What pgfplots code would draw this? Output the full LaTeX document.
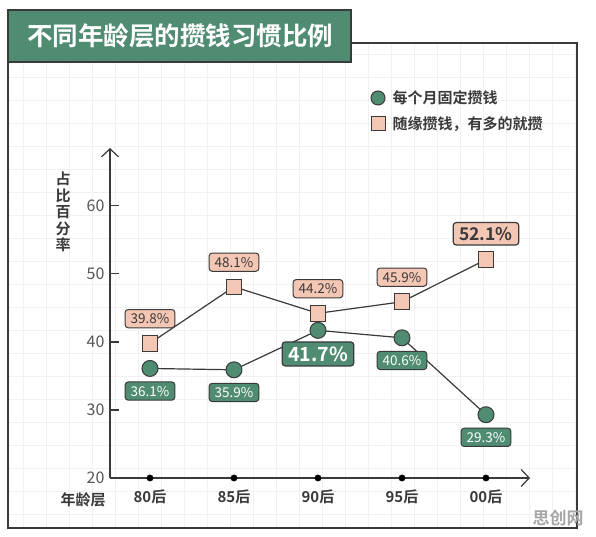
\documentclass[border=0pt]{standalone}
\usepackage{pgfplots}
\pgfplotsset{compat=1.18}
\usepackage{fontspec}
\setmainfont{Noto Sans CJK SC}[BoldFont={Noto Sans CJK SC Bold}]
\usetikzlibrary{arrows.meta}
\definecolor{cgreen}{HTML}{4F8C72}
\definecolor{cpink}{HTML}{F4C6B4}
\definecolor{cdark}{HTML}{3A3A3A}
\definecolor{cgrid}{HTML}{F1F1F1}
\begin{document}
\begin{tikzpicture}[x=1pt,y=1pt]
\useasboundingbox (0,0) rectangle (596,537);
% background grid
\fill[white] (0,0) rectangle (596,537);
\begin{scope}
\clip (8,9) rectangle (577,494);
\draw[cgrid, line width=0.6pt, step=23pt] (0,0) grid (596,537);
\end{scope}
% frame
\draw[cdark, line width=1.2pt] (8,494) rectangle (577,9);
% title box
\draw[cdark, line width=1.2pt, fill=cgreen] (8,475) rectangle (351,527);
\node[text=white, font=\bfseries\fontsize{25.5}{27}\selectfont, anchor=center] at (180,501) {不同年龄层的攒钱习惯比例};
% legend
\draw[cdark, line width=1pt, fill=cgreen] (378,439) circle (7);
\node[anchor=west, text=cdark, font=\bfseries\fontsize{15}{16}\selectfont] at (389,439) {每个月固定攒钱};
\draw[cdark, line width=1pt, fill=cpink] (371,406) rectangle (385,420);
\node[anchor=west, text=cdark, font=\bfseries\fontsize{15}{16}\selectfont] at (389,413) {随缘攒钱，有多的就攒};
% y label
\node[text=cdark, font=\bfseries\fontsize{15}{16}\selectfont, align=center, anchor=center] at (63,325) {占\\[0.5pt]比\\[0.5pt]百\\[0.5pt]分\\[0.5pt]率};
% x label
\node[text=cdark, font=\bfseries\fontsize{15}{16}\selectfont, anchor=center] at (83,37) {年龄层};
% watermark
\node[text=black!35, font=\bfseries\fontsize{17}{18}\selectfont, anchor=center] at (558,19) {思创网};
\begin{axis}[
  at={(110pt,59pt)}, anchor=south west,
  scale only axis, width=420pt, height=330pt,
  xmin=-0.476, xmax=4.524, ymin=20, ymax=68.5,
  axis lines=left,
  axis line style={cdark, line width=1.2pt, -{Straight Barb[length=8pt,width=17pt,line width=1.2pt]}},
  xtick={0,1,2,3,4},
  xticklabels={80后,85后,90后,95后,00后},
  ytick={20,30,40,50,60},
  major x tick style={draw=none},
  major y tick style={cdark, line width=1.2pt},
  tick align=inside,
  major tick length=9pt,
  xticklabel style={text=cdark, font=\bfseries\fontsize{15}{16}\selectfont, yshift=-8pt},
  yticklabel style={text=cdark!85, font=\fontsize{16}{17}\selectfont, xshift=-2pt},
  /pgf/number format/assume math mode=true,
  clip=false,
]
% axis dots
\addplot[only marks, mark=*, mark size=3.2pt, color=black] coordinates {(0,20) (1,20) (2,20) (3,20) (4,20)};
% series: random saving (pink squares)
\addplot[cdark, line width=1.2pt, mark=square*, mark size=7.8pt,
  mark options={fill=cpink, draw=cdark, line width=1pt}]
  coordinates {(0,39.8) (1,48.1) (2,44.2) (3,45.9) (4,52.1)};
% series: fixed monthly saving (green circles)
\addplot[cdark, line width=1.2pt, mark=*, mark size=8pt,
  mark options={fill=cgreen, draw=cdark, line width=1pt}]
  coordinates {(0,36.1) (1,35.9) (2,41.7) (3,40.6) (4,29.3)};
% pink labels
\addplot[draw=none, mark=none, point meta=explicit symbolic,
  nodes near coords={\pgfplotspointmeta\%},
  nodes near coords style={anchor=south, yshift=15pt, fill=cpink, draw=cdark, line width=1pt,
    rounded corners=3pt, text=cdark, font=\fontsize{13.5}{14}\selectfont,
    inner xsep=5.5pt, inner ysep=4pt}]
  table[meta=l] {x y l
0 39.8 39.8
1 48.1 48.1
2 44.2 44.2
3 45.9 45.9
};
\addplot[draw=none, mark=none, point meta=explicit symbolic,
  nodes near coords={\pgfplotspointmeta\%},
  nodes near coords style={anchor=south, yshift=14pt, fill=cpink, draw=cdark, line width=1.2pt,
    rounded corners=3pt, text=cdark, font=\bfseries\fontsize{17.5}{18}\selectfont,
    inner xsep=6pt, inner ysep=4.5pt}]
  table[meta=l] {x y l
4 52.1 52.1
};
% green labels
\addplot[draw=none, mark=none, point meta=explicit symbolic,
  nodes near coords={\pgfplotspointmeta\%},
  nodes near coords style={anchor=north, yshift=-13pt, fill=cgreen, draw=cdark, line width=1pt,
    rounded corners=3pt, text=white, font=\fontsize{13.5}{14}\selectfont,
    inner xsep=5.5pt, inner ysep=4pt}]
  table[meta=l] {x y l
0 36.1 36.1
1 35.9 35.9
3 40.6 40.6
4 29.3 29.3
};
\addplot[draw=none, mark=none, point meta=explicit symbolic,
  nodes near coords={\pgfplotspointmeta\%},
  nodes near coords style={anchor=north, yshift=-11pt, fill=cgreen, draw=cdark, line width=1.2pt,
    rounded corners=3pt, text=white, font=\bfseries\fontsize{19.5}{20}\selectfont,
    inner xsep=6pt, inner ysep=4.5pt}]
  table[meta=l] {x y l
2 41.7 41.7
};
\end{axis}
\end{tikzpicture}
\end{document}
